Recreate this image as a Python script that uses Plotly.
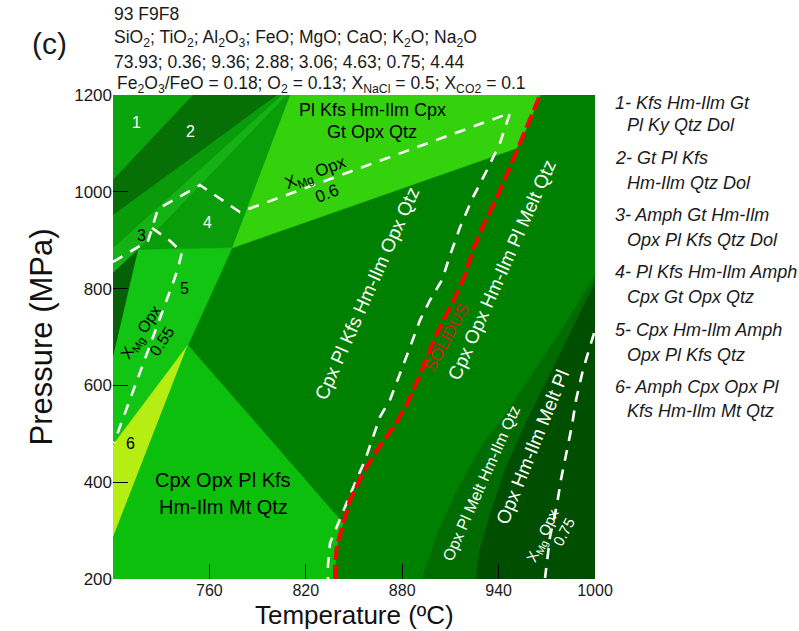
import plotly.graph_objects as go

# ---------------- data (T in ºC, P in MPa) ----------------
# phase-field polygons
reg1_T = [700, 749.8, 700]
reg1_P = [1200, 1200, 1024.4]
reg2_T = [749.8, 802.1, 700, 700]
reg2_P = [1200, 1200, 952, 1024.4]
bandA_T = [802.1, 805.2, 700, 700]
bandA_P = [1200, 1200, 884, 952]
reg3_T = [805.2, 808.3, 715.6, 700, 700]
reg3_P = [1200, 1200, 879.8, 832, 884]
reg4_T = [808.3, 810.2, 774.1, 715.6]
reg4_P = [1200, 1200, 884, 879.8]
light_T = [810.2, 965.8, 958.3, 951.4, 774.1]
light_P = [1200, 1200, 1138, 1090.5, 884]
dark_strip_T = [700, 715.6, 700]
dark_strip_P = [832, 879.8, 658.7]
reg5_T = [715.6, 774.1, 746.7, 700, 700]
reg5_P = [879.8, 884, 683.5, 477, 658.7]
reg6_T = [746.7, 700, 700]
reg6_P = [683.5, 477, 284.8]
main_T = [746.7, 700, 700, 838.2, 838.2, 839.4, 843.2]
main_P = [683.5, 284.8, 200, 200, 229, 270, 316]
melt1_T = [1000, 981.3, 962.7, 944.0, 927.2, 912.9, 901.7, 892.3, 1000]
melt1_P = [828, 725, 632, 539, 462.5, 374, 291, 200, 200]
melt2_T = [1000, 985.7, 970.7, 956.4, 944.0, 934.6, 928.4, 925.9, 1000]
melt2_P = [811, 714.5, 615, 518, 425, 332, 260, 200, 200]

# solidus
sol_T = [838.2, 838.2, 839.4, 843.2, 847.5, 855.6, 864.3, 875.5, 883.6, 891.1,
         897.9, 904.1, 912.2, 919.1, 924.1, 930.9, 939.0, 947.1, 952.1, 958.3, 965.8]
sol_P = [200, 229, 270, 316, 363, 419, 466.5, 518, 566, 621.5,
         679, 725, 776.5, 828, 880, 933.5, 989, 1051, 1090.5, 1138, 1200]

# X_Mg Opx isopleths
iso60_T = [700, 721.8, 728, 754.1, 779, 947.1, 940.9, 932.8, 924.1, 916.0, 909.8,
           904.8, 897.3, 891.1, 884.2, 877.4, 872.4, 866.2, 861.2, 856.9, 848.8,
           841.3, 835.1, 833.8, 833.8]
iso60_P = [855, 898.4, 964.5, 1014, 958, 1162.8, 1101, 1045, 989, 927, 869,
           818, 776, 735, 673, 615, 570, 535, 487, 446, 384,
           322, 274.5, 229, 200]
iso55_T = [724.3, 734.9, 742.9, 740.5, 738.0, 701.9, 700.6]
iso55_P = [925.2, 900.4, 875.6, 842.6, 817.8, 493.4, 481]
iso75_T = [999.4, 992.5, 988.2, 985.7, 982.6, 978.8, 976.3, 972.0, 968.9]
iso75_P = [708, 632, 570, 518, 467, 405, 353, 287, 202]

x_ticks = [760, 820, 880, 940, 1000]
y_ticks = [200, 400, 600, 800, 1000, 1200]

legend_lines = [
    "1- Kfs Hm-Ilm Gt", "Pl Ky Qtz Dol",
    "2- Gt Pl Kfs", "Hm-Ilm Qtz Dol",
    "3- Amph Gt Hm-Ilm", "Opx Pl Kfs Qtz Dol",
    "4- Pl Kfs Hm-Ilm Amph", "Cpx Gt Opx Qtz",
    "5- Cpx Hm-Ilm Amph", "Opx Pl Kfs Qtz",
    "6- Amph Cpx Opx Pl", "Kfs Hm-Ilm Mt Qtz",
]
legend_y_px = [103, 125, 158, 183, 215, 240, 272, 297, 330, 355, 387, 411]
legend_x_px = [613, 625] * 6

header_lines = [
    "93 F9F8",
    "SiO<sub>2</sub>; TiO<sub>2</sub>; Al<sub>2</sub>O<sub>3</sub>; FeO; MgO; CaO; K<sub>2</sub>O; Na<sub>2</sub>O",
    "73.93; 0.36; 9.36; 2.88; 3.06; 4.63; 0.75; 4.44",
    "Fe<sub>2</sub>O<sub>3</sub>/FeO = 0.18; O<sub>2</sub> = 0.13; X<sub>NaCl</sub> = 0.5; X<sub>CO2</sub> = 0.1",
]
header_y_px = [14, 38, 62, 84]
header_x_px = [112, 112, 112, 115]

# ---------------- figure ----------------
FONT = "Liberation Sans, Arial, sans-serif"
W, H = 799, 631
L, R, T, B = 113, 204, 95, 52
pw, ph = W - L - R, H - T - B

fig = go.Figure()

fields = [
    (reg1_T, reg1_P, "#0aa50a"),
    (reg2_T, reg2_P, "#066f06"),
    (bandA_T, bandA_P, "#099b09"),
    (reg3_T, reg3_P, "#14b214"),
    (reg4_T, reg4_P, "#0a9d0a"),
    (light_T, light_P, "#33d20c"),
    (dark_strip_T, dark_strip_P, "#066106"),
    (reg5_T, reg5_P, "#12c512"),
    (reg6_T, reg6_P, "#b6ee14"),
    (main_T, main_P, "#0cbf0c"),
    (melt1_T, melt1_P, "#006b00"),
    (melt2_T, melt2_P, "#004f00"),
]
for tx, py, col in fields:
    fig.add_trace(go.Scatter(x=tx, y=py, fill="toself", fillcolor=col, mode="lines",
                             line=dict(width=0.6, color=col), hoverinfo="skip",
                             showlegend=False))

for tx, py in [(iso60_T, iso60_P), (iso55_T, iso55_P), (iso75_T, iso75_P)]:
    fig.add_trace(go.Scatter(x=tx, y=py, mode="lines",
                             line=dict(color="white", width=2.6, dash="11px,9px"),
                             hoverinfo="skip", showlegend=False))

fig.add_trace(go.Scatter(x=sol_T, y=sol_P, mode="lines",
                         line=dict(color="#ff0000", width=4, dash="14px,5px"),
                         hoverinfo="skip", showlegend=False))

ann = []
def lab(x, y, text, size, color="black", angle=0):
    ann.append(dict(x=x, y=y, xref="x", yref="y", text=text, showarrow=False,
                    textangle=angle, font=dict(family=FONT, size=size, color=color)))

lab(714.9, 1144, "1", 16, "white")
lab(748.5, 1125.6, "2", 16, "white")
lab(718.0, 910.7, "3", 16)
lab(759.1, 937.6, "4", 16, "white")
lab(744.8, 801.2, "5", 16)
lab(710.6, 481, "6", 16)
lab(768.5, 404.5, "Cpx Opx Pl Kfs", 20)
lab(768.5, 348.8, "Hm-Ilm Mt Qtz", 20)
lab(861.8, 1169, "Pl Kfs Hm-Ilm Cpx", 18)
lab(861.2, 1123.5, "Gt Opx Qtz", 18)
lab(858.1, 790, "Cpx Pl Kfs Hm-Ilm Opx Qtz", 19, "white", -66)
lab(942.1, 840, "Cpx Opx Hm-Ilm Pl Melt Qtz", 19, "white", -66)
lab(907.9, 698, "SOLIDUS", 17, "#cc1e1e", -61)
lab(929, 398.3, "Opx Pl Melt Hm-Ilm Qtz", 16, "white", -66)
lab(960.8, 472.7, "Opx Hm-Ilm Melt Pl", 19, "white", -68)
lab(967.6, 290.9, "X<sub>Mg</sub> Opx", 15, "white", -65)
lab(980.1, 297.1, "0.75", 15, "white", -62)
lab(826.3, 1036, "X<sub>Mg</sub> Opx", 17, "black", -21)
lab(833.2, 997.5, "0.6", 17, "black", -21)
lab(718, 708.3, "X<sub>Mg</sub> Opx", 16, "black", -57)
lab(730.5, 689.7, "0.55", 16, "black", -57)

def px2paper(xp, yp):
    return (xp - L) / pw, (H - B - yp) / ph

for txt, xp, yp in zip(legend_lines, legend_x_px, legend_y_px):
    xpp, ypp = px2paper(xp, yp)
    ann.append(dict(x=xpp, y=ypp, xref="paper", yref="paper", xanchor="left",
                    yanchor="middle", text="<i>" + txt + "</i>",
                    showarrow=False, font=dict(family=FONT, size=18, color="#1a1a1a")))

for txt, xp, yp in zip(header_lines, header_x_px, header_y_px):
    xpp, ypp = px2paper(xp, yp)
    ann.append(dict(x=xpp, y=ypp, xref="paper", yref="paper", xanchor="left",
                    yanchor="middle", text=txt, showarrow=False,
                    font=dict(family=FONT, size=17.5, color="#1a1a1a")))

xpp, ypp = px2paper(30, 25)
ann.append(dict(x=xpp, y=ypp, xref="paper", yref="paper", text="(c)", showarrow=False,
                font=dict(family=FONT, size=30, color="#1a1a1a")))

# x axis title
xpp, ypp = px2paper(354, 615)
ann.append(dict(x=xpp, y=ypp, xref="paper", yref="paper", text="Temperature (ºC)",
                showarrow=False, yanchor="middle",
                font=dict(family=FONT, size=26, color="#111")))

fig.update_layout(
    width=W, height=H,
    margin=dict(l=L, r=R, t=T, b=B, autoexpand=False),
    paper_bgcolor="white", plot_bgcolor="#008000",
    annotations=ann, showlegend=False,
    font=dict(family=FONT, color="#1a1a1a"),
)
fig.update_xaxes(range=[700, 1000], tickvals=x_ticks, ticks="inside", ticklen=15,
                 tickcolor="black", tickwidth=1.2, showgrid=False, zeroline=False,
                 showline=False, tickfont=dict(family=FONT, size=16, color="#1a1a1a"))
fig.update_yaxes(range=[200, 1200], tickvals=y_ticks, ticks="inside", ticklen=15,
                 tickcolor="black", tickwidth=1.2, showgrid=False, zeroline=False,
                 showline=False, tickfont=dict(family=FONT, size=17, color="#1a1a1a"),
                 title=dict(text="Pressure (MPa)", standoff=12,
                            font=dict(family=FONT, size=31, color="#111")))

fig.write_html("out.html")
